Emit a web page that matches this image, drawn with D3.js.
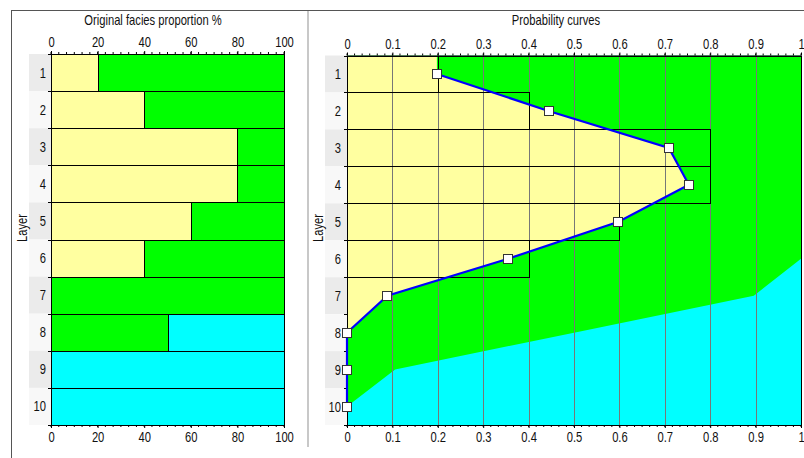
<!DOCTYPE html>
<html>
<head>
<meta charset="utf-8">
<script src="https://cdn.jsdelivr.net/npm/d3@7"></script>
<style>
  html, body { margin: 0; padding: 0; background: #fff; }
  svg { display: block; }
  text {
    font-family: "Liberation Sans", Arial, sans-serif; font-size: 14px; fill: #111;
    transform-box: fill-box; transform-origin: center; transform: scaleX(0.8);
  }
  text.row { transform-origin: right center; }
</style>
</head>
<body>
<svg id="chart" width="804" height="458"></svg>
<script>
// Layers (rows) of the well section
const layers = [1, 2, 3, 4, 5, 6, 7, 8, 9, 10];

// Original facies proportions per layer, in percent
const yellowPct = [20, 40, 80, 80, 60, 40, 0, 0, 0, 0];
const greenPct  = [80, 60, 20, 20, 40, 60, 100, 50, 0, 0];
const cyanPct   = [0, 0, 0, 0, 0, 0, 0, 50, 100, 100];

// Probability curves: yellow facies, and cumulated yellow + green
const probYellow      = [0.198, 0.444, 0.709, 0.753, 0.598, 0.355, 0.089, 0, 0, 0];
const probYellowGreen = [1, 1, 1, 1, 1, 1, 0.896, 0.5, 0.106, 0];

// Axis tick labels
const pctTicks  = [0, 20, 40, 60, 80, 100];
const probTicks = [0, 0.1, 0.2, 0.3, 0.4, 0.5, 0.6, 0.7, 0.8, 0.9, 1];

const COL_YELLOW = "#ffffa0";
const COL_GREEN  = "#00ff00";
const COL_CYAN   = "#00ffff";

const svg = d3.select("#chart");

// ---- panel frames ----
svg.append("line").attr("x1", 11).attr("x2", 804).attr("y1", 10.5).attr("y2", 10.5)
  .attr("stroke", "#555").attr("stroke-width", 1);
svg.append("line").attr("x1", 11.5).attr("x2", 11.5).attr("y1", 10).attr("y2", 458)
  .attr("stroke", "#555").attr("stroke-width", 1);
svg.append("line").attr("x1", 308).attr("x2", 308).attr("y1", 11).attr("y2", 447)
  .attr("stroke", "#c8c8c8").attr("stroke-width", 2);

// shared vertical layout
function makeY(top, bottom) {
  return d3.scaleBand().domain(layers).range([top, bottom]).paddingInner(0).paddingOuter(0);
}

function layerColumn(g, y, x0, x1, labelRight) {
  // alternating shaded row headers
  g.selectAll("rect.band").data(layers).join("rect")
    .attr("class", "band")
    .attr("x", x0).attr("width", x1 - x0)
    .attr("y", d => y(d)).attr("height", y.bandwidth())
    .attr("fill", (d, i) => i % 2 === 0 ? "#ebebeb" : "#f8f8f8");
  g.selectAll("text.row").data(layers).join("text")
    .attr("class", "row")
    .attr("x", labelRight)
    .attr("y", d => y(d) + y.bandwidth() / 2)
    .attr("dy", "0.36em")
    .attr("text-anchor", "end")
    .text(d => d);
  // small ticks at layer boundaries
  const bounds = layers.map(d => y(d)).concat([y(layers[layers.length - 1]) + y.bandwidth()]);
  g.selectAll("line.ytick").data(bounds).join("line")
    .attr("class", "ytick")
    .attr("x1", x1 - 3).attr("x2", x1)
    .attr("y1", d => Math.round(d) + 0.5).attr("y2", d => Math.round(d) + 0.5)
    .attr("stroke", "#000");
}

function xAxes(g, x, ticks, top, bottom, fmt, minorStep) {
  const [d0, d1] = x.domain();
  const minor = d3.range(d0, d1 + minorStep / 2, minorStep);
  const top_ = g.append("g").attr("transform", `translate(0,${top})`);
  top_.call(d3.axisTop(x).tickValues(ticks).tickFormat(fmt).tickSize(3).tickPadding(4).tickSizeOuter(0));
  top_.selectAll("g.minor").data(minor).join("line")
    .attr("x1", d => x(d)).attr("x2", d => x(d)).attr("y1", 0).attr("y2", -2).attr("stroke", "#000");
  const bot = g.append("g").attr("transform", `translate(0,${bottom})`);
  bot.call(d3.axisBottom(x).tickValues(ticks).tickFormat(fmt).tickSize(3).tickPadding(4).tickSizeOuter(0));
  bot.selectAll("g.minor").data(minor).join("line")
    .attr("x1", d => x(d)).attr("x2", d => x(d)).attr("y1", 0).attr("y2", 2).attr("stroke", "#000");
  [top_, bot].forEach(a => {
    a.attr("font-family", null).attr("font-size", null);
    a.select(".domain").attr("stroke", "#000");
    a.selectAll("text").attr("fill", "#111");
  });
}

// ================= Left panel: original proportions =================
{
  const top = 54, bottom = 425;
  const x = d3.scaleLinear().domain([0, 100]).range([51, 284]);
  const y = makeY(top, bottom);
  const g = svg.append("g");

  g.append("text").attr("x", 153).attr("y", 25).attr("text-anchor", "middle")
    .text("Original facies proportion %");

  layerColumn(g, y, 29, 51, 46);

  g.append("g").attr("transform", "translate(27,228) rotate(-90)")
    .append("text").attr("text-anchor", "middle").text("Layer");

  // stacked bars per layer
  const rows = layers.map((l, i) => {
    const segs = [];
    let acc = 0;
    [[yellowPct[i], COL_YELLOW], [greenPct[i], COL_GREEN], [cyanPct[i], COL_CYAN]].forEach(([v, c]) => {
      if (v > 0) segs.push({ layer: l, x0: acc, x1: acc + v, color: c });
      acc += v;
    });
    return segs;
  }).flat();
  g.selectAll("rect.seg").data(rows).join("rect")
    .attr("class", "seg")
    .attr("x", d => Math.round(x(d.x0)) + 0.5)
    .attr("width", d => Math.round(x(d.x1)) - Math.round(x(d.x0)))
    .attr("y", d => Math.round(y(d.layer)) + 0.5)
    .attr("height", d => Math.round(y(d.layer) + y.bandwidth()) - Math.round(y(d.layer)))
    .attr("fill", d => d.color)
    .attr("stroke", "#000").attr("stroke-width", 1);

  xAxes(g, x, pctTicks, top, bottom, d3.format("d"), 20 / 6);
}

// ================= Right panel: probability curves =================
{
  const top = 55.5, bottom = 425;
  const x = d3.scaleLinear().domain([0, 1]).range([347, 801]);
  const y = makeY(top, bottom);
  const yc = l => y(l) + y.bandwidth() / 2;
  const g = svg.append("g");

  g.append("text").attr("x", 556).attr("y", 25).attr("text-anchor", "middle")
    .text("Probability curves");

  layerColumn(g, y, 325, 347, 341);

  g.append("g").attr("transform", "translate(323,228) rotate(-90)")
    .append("text").attr("text-anchor", "middle").text("Layer");

  svg.append("clipPath").attr("id", "plotClip").append("rect")
    .attr("x", x(0)).attr("y", top).attr("width", x(1) - x(0)).attr("height", bottom - top);

  const plot = g.append("g").attr("clip-path", "url(#plotClip)");

  // region bounded on the left by x=0 and on the right by a per-layer curve
  function regionPath(vals) {
    const pts = [[x(0), top], [x(vals[0]), top]];
    layers.forEach((l, i) => pts.push([x(vals[i]), yc(l)]));
    pts.push([x(vals[vals.length - 1]), bottom], [x(0), bottom]);
    return d3.line()(pts) + "Z";
  }

  plot.append("rect").attr("x", x(0)).attr("y", top)
    .attr("width", x(1) - x(0)).attr("height", bottom - top).attr("fill", COL_CYAN);
  plot.append("path").attr("d", regionPath(probYellowGreen)).attr("fill", COL_GREEN);
  plot.append("path").attr("d", regionPath(probYellow)).attr("fill", COL_YELLOW);

  // vertical grid
  plot.selectAll("line.grid").data(probTicks.slice(1, -1)).join("line")
    .attr("class", "grid")
    .attr("x1", d => Math.round(x(d)) + 0.5).attr("x2", d => Math.round(x(d)) + 0.5)
    .attr("y1", top).attr("y2", bottom)
    .attr("stroke", "#777").attr("stroke-width", 1);

  // outlines of the original yellow proportion per layer
  plot.selectAll("rect.box").data(layers.filter((l, i) => yellowPct[i] > 0)).join("rect")
    .attr("class", "box")
    .attr("x", Math.round(x(0)) + 0.5)
    .attr("width", l => Math.round(x(yellowPct[l - 1] / 100)) - Math.round(x(0)))
    .attr("y", l => Math.round(y(l)) + 0.5)
    .attr("height", l => Math.round(y(l) + y.bandwidth()) - Math.round(y(l)))
    .attr("fill", "none").attr("stroke", "#000").attr("stroke-width", 1);

  // plot frame
  g.append("rect").attr("x", Math.round(x(0)) + 0.5).attr("y", Math.round(top) + 0.5)
    .attr("width", Math.round(x(1)) - Math.round(x(0))).attr("height", Math.round(bottom) - Math.round(top))
    .attr("fill", "none").attr("stroke", "#000");

  xAxes(g, x, probTicks, top, bottom, d => d === 0 || d === 1 ? d3.format("d")(d) : d3.format(".1f")(d), 0.1 / 6);

  // yellow probability curve
  const pts = layers.map((l, i) => [x(probYellow[i]), yc(l)]);
  g.append("path").attr("d", d3.line()(pts)).attr("fill", "none")
    .attr("stroke", "#0000ff").attr("stroke-width", 2.2);
  g.selectAll("rect.mk").data(pts).join("rect")
    .attr("class", "mk")
    .attr("x", d => Math.round(d[0]) - 4.5).attr("y", d => Math.round(d[1]) - 4.5)
    .attr("width", 9).attr("height", 9)
    .attr("fill", "#fff").attr("stroke", "#333").attr("stroke-width", 1);
}
</script>
</body>
</html>
